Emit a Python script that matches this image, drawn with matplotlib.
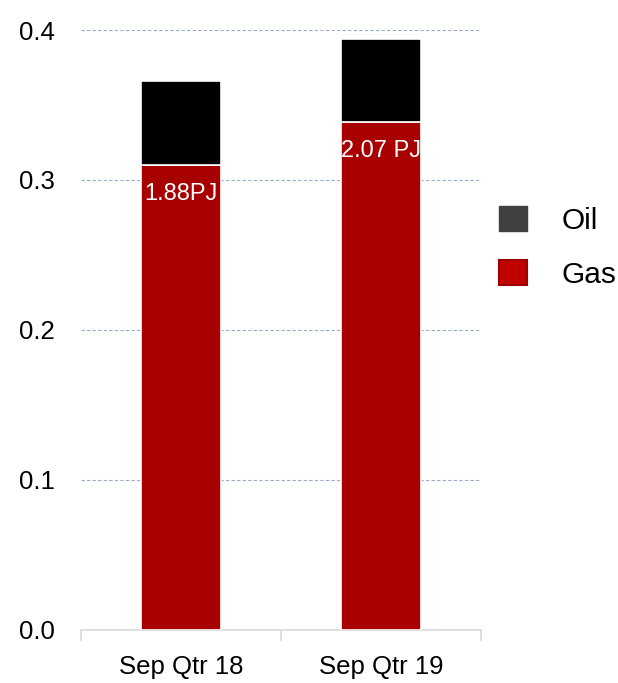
import numpy as np
import matplotlib.pyplot as plt
from matplotlib.patches import Patch

plt.rcParams['font.family'] = ['Liberation Sans', 'DejaVu Sans']

categories = ['Sep Qtr 18', 'Sep Qtr 19']
gas = [0.310, 0.339]
oil = [0.056, 0.055]
gas_labels = ['1.88PJ', '2.07 PJ']

gas_color = '#a80000'
oil_color = '#000000'

fig = plt.figure(figsize=(6.18, 6.83), dpi=100)
ax = fig.add_axes([0.131, 0.078, 0.647, 0.878])

x = np.arange(len(categories))
ax.bar(x, gas, width=0.4, color=gas_color, edgecolor='white', linewidth=1.2, zorder=3)
ax.bar(x, oil, width=0.4, bottom=gas, color=oil_color, edgecolor='white', linewidth=1.2, zorder=3)

for xi, g, lab in zip(x, gas, gas_labels):
    ax.annotate(lab, (xi, g), xytext=(0, -21), textcoords='offset points',
                ha='center', va='center', color='white', fontsize=17, zorder=4)

ax.set_xlim(-0.5, 1.5)
ax.set_ylim(0, 0.4)
ax.set_yticks([0.0, 0.1, 0.2, 0.3, 0.4])
ax.set_yticklabels(['0.0', '0.1', '0.2', '0.3', '0.4'], fontsize=18.5)
ax.set_xticks(x)
ax.set_xticklabels(categories, fontsize=18.5)
ax.set_xticks([-0.5, 0.5, 1.5], minor=True)
ax.tick_params(axis='x', which='major', length=0, pad=18)
ax.tick_params(axis='x', which='minor', length=8, color='#d9d9d9', width=1.2)
ax.tick_params(axis='y', length=0, pad=19)

for yv in [0.1, 0.2, 0.3, 0.4]:
    ax.axhline(yv, color='#98acc8', linestyle=(0, (3, 2)), linewidth=0.8, zorder=1)

for s in ['top', 'right', 'left']:
    ax.spines[s].set_visible(False)
ax.spines['bottom'].set_color('#d9d9d9')
ax.spines['bottom'].set_linewidth(1.2)

handles = [Patch(facecolor='#404040', edgecolor='#404040', label='Oil'),
           Patch(facecolor='#c00000', edgecolor='#a00000', linewidth=1.5, label='Gas')]
fig.legend(handles=handles, loc='center left', bbox_to_anchor=(0.808, 0.638),
           frameon=False, fontsize=21.5, handlelength=0.92, handleheight=0.92,
           handletextpad=1.15, labelspacing=0.85, borderpad=0, borderaxespad=0)

fig.savefig('out.png', dpi=100)
